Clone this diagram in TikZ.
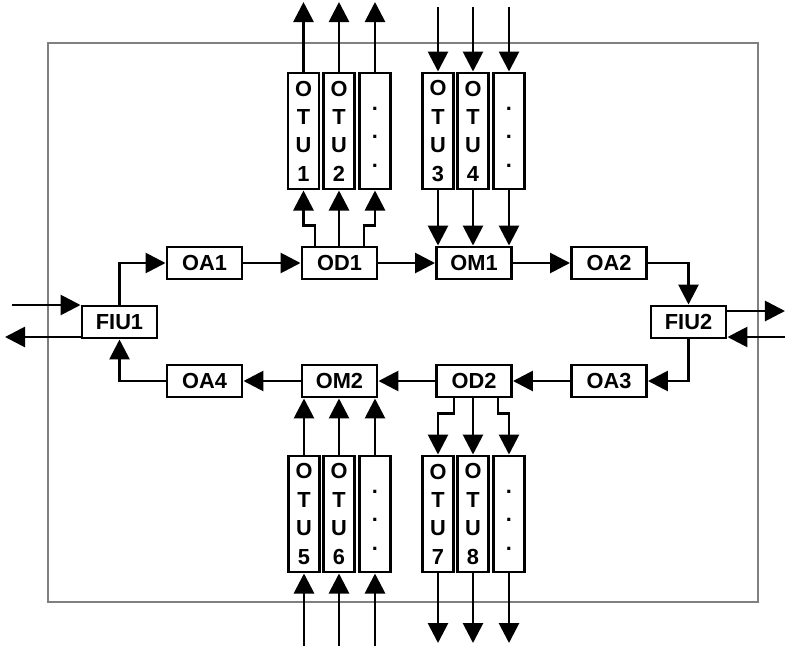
\documentclass[tikz,border=0pt]{standalone}
\usepackage{fontspec}
\setmainfont{Liberation Sans}[BoldFont={Liberation Sans Bold}]
\usetikzlibrary{arrows.meta,calc}

\begin{document}
\begin{tikzpicture}[x=0.025cm,y=-0.025cm,
	box/.style={draw, line width=2.1pt, minimum width=1.875cm, minimum height=0.8cm, inner sep=0pt, font=\bfseries\fontsize{15.5}{20.2}\selectfont},
	otu/.style={box, minimum width=0.775cm, minimum height=2.9cm, align=center},
	link/.style={line width=2pt, -{Triangle[length=0.5cm,width=0.5cm]}}]
				% Frame of the node
				\useasboundingbox (0,0) rectangle (785,646);
				\draw[gray, line width=1.2pt] (48,43) rectangle (758,602);
				
				% Ring: interface units, amplifiers, mux and demux
				\node[box] (fiu1) at (119.5,322) {FIU1};
				\node[box] (oa1) at (204.5,263) {OA1};
				\node[box] (od1) at (339.5,263) {OD1};
				\node[box] (om1) at (474,263) {OM1};
				\node[box] (oa2) at (609,263) {OA2};
				\node[box] (fiu2) at (688.5,322) {FIU2};
				\node[box] (oa3) at (609,381) {OA3};
				\node[box] (od2) at (474,381) {OD2};
				\node[box] (om2) at (339.5,381) {OM2};
				\node[box] (oa4) at (204.5,381) {OA4};
				
				\draw[link] (fiu1.north) |- (oa1.west);
				\draw[link] (oa1) -- (od1);
				\draw[link] (od1) -- (om1);
				\draw[link] (om1) -- (oa2);
				\draw[link] (oa2.east) -| (fiu2.north);
				\draw[link] (fiu2.south) |- (oa3.east);
				\draw[link] (oa3) -- (od2);
				\draw[link] (od2) -- (om2);
				\draw[link] (om2) -- (oa4);
				\draw[link] (oa4.west) -| (fiu1.south);
				
				% Line fibres in and out
				\coordinate (in1) at (12,305);
				\coordinate (out1) at (5,337);
				\coordinate (out2) at (785,311);
				\coordinate (in2) at (785,337);
				\draw[link] (in1) -- (in1 -| fiu1.west);
				\draw[link] (out1 -| fiu1.west) -- (out1);
				\draw[link] (out2 -| fiu2.east) -- (out2);
				\draw[link] (in2) -- (in2 -| fiu2.east);
				
				% Transponders, upper row
				\node[otu] (otu1) at (303.5,131) {O\\T\\U\\1};
				\node[otu] (otu2) at (339,131) {O\\T\\U\\2};
				\node[otu] (otu12) at (375,131) {\vphantom{O}.\\.\\.};
				\node[otu] (otu3) at (438,131) {O\\T\\U\\3};
				\node[otu] (otu4) at (473,131) {O\\T\\U\\4};
				\node[otu] (otu34) at (509,131) {\vphantom{O}.\\.\\.};
				
				\coordinate (top) at (0,2);
				\coordinate (topin) at (0,7);
				\draw[link] ($(od1.north)+(-24.5,0)$) -- ++(0,-20) -| (otu1.south);
				\draw[link] (otu2.south |- od1.north) -- (otu2.south);
				\draw[link] ($(od1.north)+(24.5,0)$) -- ++(0,-20) -| (otu12.south);
				\draw[link] (otu1.north) -- (otu1.north |- top);
				\draw[link] (otu2.north) -- (otu2.north |- top);
				\draw[link] (otu12.north) -- (otu12.north |- top);
				\draw[link] (otu3.north |- topin) -- (otu3.north);
				\draw[link] (otu4.north |- topin) -- (otu4.north);
				\draw[link] (otu34.north |- topin) -- (otu34.north);
				\draw[link] (otu3.south) -- (otu3.south |- om1.north);
				\draw[link] (otu4.south) -- (otu4.south |- om1.north);
				\draw[link] (otu34.south) -- (otu34.south |- om1.north);
				
				% Transponders, lower row
				\node[otu] (otu5) at (304,514) {O\\T\\U\\5};
				\node[otu] (otu6) at (339,514) {O\\T\\U\\6};
				\node[otu] (otu56) at (375,514) {\vphantom{O}.\\.\\.};
				\node[otu] (otu7) at (438,514) {O\\T\\U\\7};
				\node[otu] (otu8) at (473,514) {O\\T\\U\\8};
				\node[otu] (otu78) at (509,514) {\vphantom{O}.\\.\\.};
				
				\coordinate (bot) at (0,646);
				\coordinate (botout) at (0,643);
				\draw[link] (otu5.south |- bot) -- (otu5.south);
				\draw[link] (otu6.south |- bot) -- (otu6.south);
				\draw[link] (otu56.south |- bot) -- (otu56.south);
				\draw[link] (otu5.north) -- (otu5.north |- om2.south);
				\draw[link] (otu6.north) -- (otu6.north |- om2.south);
				\draw[link] (otu56.north) -- (otu56.north |- om2.south);
				\draw[link] ($(od2.south)+(-20,0)$) -- ++(0,15) -| (otu7.north);
				\draw[link] (otu8.north |- od2.south) -- (otu8.north);
				\draw[link] ($(od2.south)+(24,0)$) -- ++(0,15) -| (otu78.north);
				\draw[link] (otu7.south) -- (otu7.south |- botout);
				\draw[link] (otu8.south) -- (otu8.south |- botout);
				\draw[link] (otu78.south) -- (otu78.south |- botout);
			\end{tikzpicture}
\end{document}
